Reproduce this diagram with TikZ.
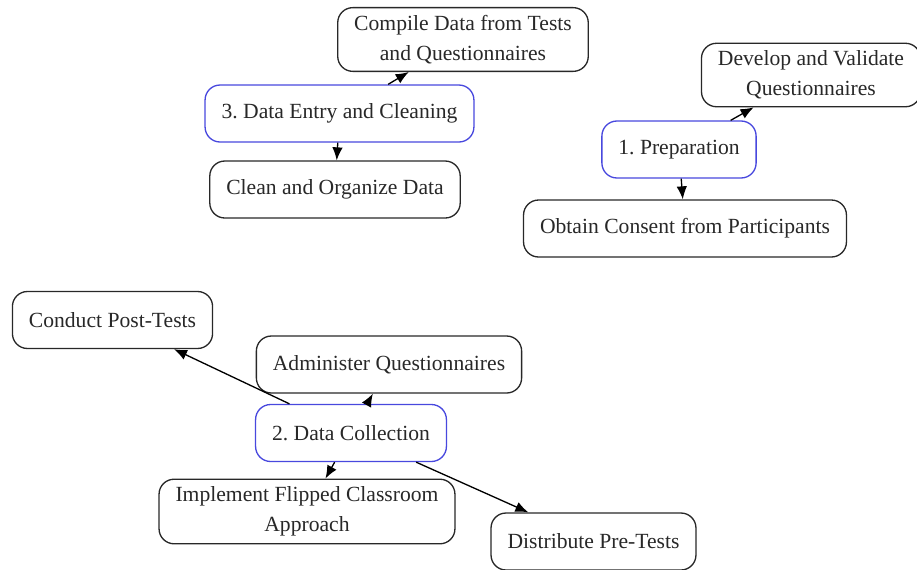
\documentclass[tikz,border=0pt]{standalone}
\usepackage{fontspec}
\setmainfont{Liberation Serif}
\newfontfamily\boxfont{Liberation Serif}
\usetikzlibrary{arrows.meta}

\definecolor{hubblue}{RGB}{72,72,222}
\definecolor{inkgray}{RGB}{40,40,40}

\tikzset{
  leaf/.style={draw=inkgray, line width=0.75pt, rounded corners=0.3cm, fill=white,
    text=inkgray, align=center, inner xsep=0.33cm, inner ysep=4.3pt,
    minimum height=1.14cm, font=\boxfont\frenchspacing\fontsize{12.3}{17}\selectfont},
  hub/.style={leaf, draw=hubblue},
  link/.style={draw=black, line width=0.75pt, -{Latex[length=2.6mm,width=2.1mm]}}
}

\begin{document}
\begin{tikzpicture}[x=0.02cm, y=-0.02cm]
  \useasboundingbox (0,0) rectangle (917,569);

  % 3. data entry
  \node[hub]  (entry)   at (339.5,113.5) {3. Data Entry and Cleaning};
  \node[leaf] (compile) at (463,39.5)    {Compile Data from Tests\\and Questionnaires};
  \node[leaf] (clean)   at (335,189.5)   {Clean and Organize Data};

  % 1. preparation
  \node[hub]  (prep)    at (679,149.5)   {1. Preparation};
  \node[leaf] (develop) at (811,75)      {Develop and Validate\\Questionnaires};
  \node[leaf] (consent) at (685,228.5)   {Obtain Consent from Participants};

  % 2. data collection
  \node[hub]  (collect) at (351,433)     {2. Data Collection};
  \node[leaf] (post)    at (112.5,320)   {Conduct Post-Tests};
  \node[leaf] (admin)   at (389,364.5)   {Administer Questionnaires};
  \node[leaf] (flip)    at (307,511.5)   {Implement Flipped Classroom\\Approach};
  \node[leaf] (pre)     at (593.5,541.5) {Distribute Pre-Tests};

  \draw[link] (entry) -- (compile);
  \draw[link] (entry) -- (clean);
  \draw[link] (prep) -- (develop);
  \draw[link] (prep) -- (consent);
  \draw[link] (collect) -- (post);
  \draw[link] (collect) -- (admin);
  \draw[link] (collect) -- (flip);
  \draw[link] (collect) -- (pre);
\end{tikzpicture}
\end{document}
